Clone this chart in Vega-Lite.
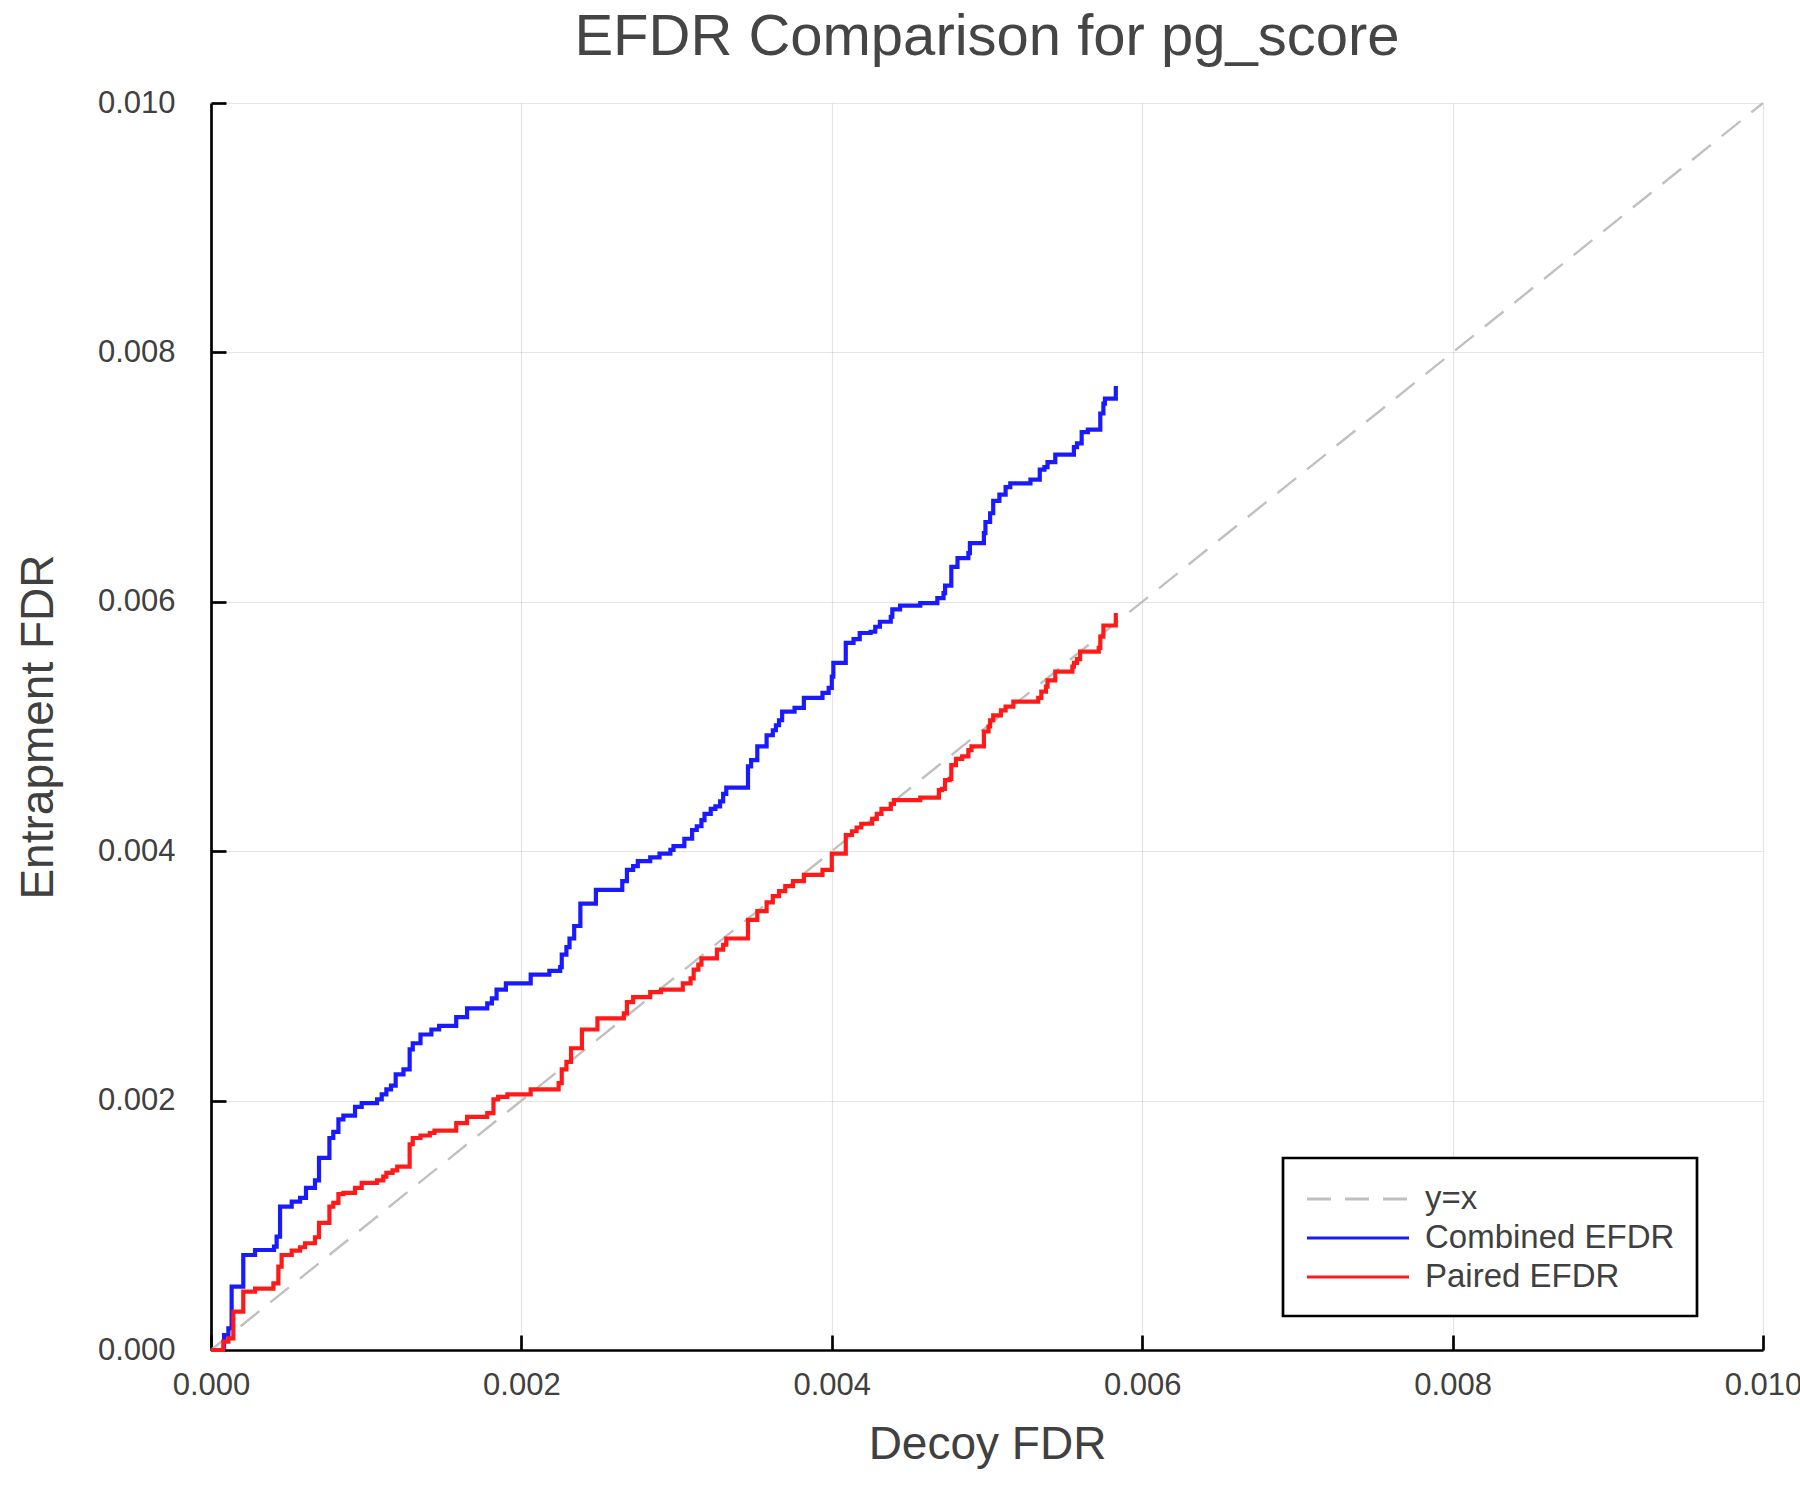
{
  "$schema": "https://vega.github.io/schema/vega-lite/v6.json",
  "width": 1552,
  "height": 1247,
  "autosize": {"type": "none"},
  "padding": {"left": 211, "top": 103, "right": 37, "bottom": 150},
  "background": "white",
  "title": {"text": "EFDR Comparison for pg_score", "fontSize": 58, "font": "Liberation Sans", "fontWeight": "normal", "color": "#454545", "anchor": "middle", "baseline": "alphabetic", "offset": -26},
  "config": {
    "view": {"stroke": null},
    "axis": {"domainColor": "black", "domainWidth": 2.7, "tickColor": "black", "tickWidth": 2.7, "tickSize": -15, "gridColor": "#000000", "gridOpacity": 0.1, "gridWidth": 1.2, "labelFont": "Liberation Sans", "labelFontSize": 31, "labelColor": "#404040", "titleFont": "Liberation Sans", "titleFontSize": 46, "titleColor": "#404040", "titleFontWeight": "normal", "labelFlush": false},
    "axisX": {"labelPadding": 35, "titlePadding": 22},
    "axisY": {"labelPadding": 51, "titlePadding": 35},
    "legend": {"orient": "none", "legendX": 1072, "legendY": 1055, "strokeColor": "black", "strokeWidth": 2.7, "fillColor": "white", "padding": 22, "symbolType": "M-1,0L5,0", "symbolSize": 1156, "symbolStrokeWidth": 3.2, "labelFontSize": 33, "labelFont": "Liberation Sans", "labelColor": "#404040", "labelOffset": 82, "rowPadding": 3, "labelLimit": 0}
  },
  "data": {"values": [
    {"s": "y=x", "x": 0, "y": 0},
    {"s": "y=x", "x": 0.01, "y": 0.01},
    {"s": "Combined EFDR", "x": 0.0000687, "y": 0.0000267},
    {"s": "Combined EFDR", "x": 0.000084, "y": 0.00012},
    {"s": "Combined EFDR", "x": 0.000112, "y": 0.000174},
    {"s": "Combined EFDR", "x": 0.000133, "y": 0.000508},
    {"s": "Combined EFDR", "x": 0.000208, "y": 0.000762},
    {"s": "Combined EFDR", "x": 0.000284, "y": 0.000802},
    {"s": "Combined EFDR", "x": 0.000406, "y": 0.000829},
    {"s": "Combined EFDR", "x": 0.000423, "y": 0.000909},
    {"s": "Combined EFDR", "x": 0.000445, "y": 0.00115},
    {"s": "Combined EFDR", "x": 0.00052, "y": 0.00119},
    {"s": "Combined EFDR", "x": 0.000574, "y": 0.00122},
    {"s": "Combined EFDR", "x": 0.000612, "y": 0.0013},
    {"s": "Combined EFDR", "x": 0.00067, "y": 0.00136},
    {"s": "Combined EFDR", "x": 0.000696, "y": 0.00154},
    {"s": "Combined EFDR", "x": 0.000763, "y": 0.0017},
    {"s": "Combined EFDR", "x": 0.000788, "y": 0.00175},
    {"s": "Combined EFDR", "x": 0.000821, "y": 0.00185},
    {"s": "Combined EFDR", "x": 0.000853, "y": 0.00188},
    {"s": "Combined EFDR", "x": 0.000928, "y": 0.00195},
    {"s": "Combined EFDR", "x": 0.000971, "y": 0.00198},
    {"s": "Combined EFDR", "x": 0.00107, "y": 0.00201},
    {"s": "Combined EFDR", "x": 0.0011, "y": 0.00205},
    {"s": "Combined EFDR", "x": 0.00113, "y": 0.00209},
    {"s": "Combined EFDR", "x": 0.00116, "y": 0.00212},
    {"s": "Combined EFDR", "x": 0.00119, "y": 0.00221},
    {"s": "Combined EFDR", "x": 0.00124, "y": 0.00225},
    {"s": "Combined EFDR", "x": 0.00128, "y": 0.00241},
    {"s": "Combined EFDR", "x": 0.0013, "y": 0.00246},
    {"s": "Combined EFDR", "x": 0.00135, "y": 0.00253},
    {"s": "Combined EFDR", "x": 0.00142, "y": 0.00257},
    {"s": "Combined EFDR", "x": 0.00147, "y": 0.0026},
    {"s": "Combined EFDR", "x": 0.00158, "y": 0.00267},
    {"s": "Combined EFDR", "x": 0.00165, "y": 0.00274},
    {"s": "Combined EFDR", "x": 0.00178, "y": 0.00278},
    {"s": "Combined EFDR", "x": 0.00181, "y": 0.00282},
    {"s": "Combined EFDR", "x": 0.00184, "y": 0.00289},
    {"s": "Combined EFDR", "x": 0.0019, "y": 0.00294},
    {"s": "Combined EFDR", "x": 0.00206, "y": 0.00301},
    {"s": "Combined EFDR", "x": 0.00218, "y": 0.00304},
    {"s": "Combined EFDR", "x": 0.00225, "y": 0.00307},
    {"s": "Combined EFDR", "x": 0.00226, "y": 0.00317},
    {"s": "Combined EFDR", "x": 0.00229, "y": 0.00323},
    {"s": "Combined EFDR", "x": 0.00231, "y": 0.0033},
    {"s": "Combined EFDR", "x": 0.00234, "y": 0.0034},
    {"s": "Combined EFDR", "x": 0.00238, "y": 0.00358},
    {"s": "Combined EFDR", "x": 0.00248, "y": 0.00369},
    {"s": "Combined EFDR", "x": 0.00265, "y": 0.00376},
    {"s": "Combined EFDR", "x": 0.00268, "y": 0.00385},
    {"s": "Combined EFDR", "x": 0.00272, "y": 0.00388},
    {"s": "Combined EFDR", "x": 0.00275, "y": 0.00392},
    {"s": "Combined EFDR", "x": 0.00283, "y": 0.00395},
    {"s": "Combined EFDR", "x": 0.00289, "y": 0.00398},
    {"s": "Combined EFDR", "x": 0.00296, "y": 0.00401},
    {"s": "Combined EFDR", "x": 0.00298, "y": 0.00404},
    {"s": "Combined EFDR", "x": 0.00305, "y": 0.0041},
    {"s": "Combined EFDR", "x": 0.0031, "y": 0.00417},
    {"s": "Combined EFDR", "x": 0.00313, "y": 0.0042},
    {"s": "Combined EFDR", "x": 0.00316, "y": 0.00425},
    {"s": "Combined EFDR", "x": 0.00318, "y": 0.0043},
    {"s": "Combined EFDR", "x": 0.00322, "y": 0.00434},
    {"s": "Combined EFDR", "x": 0.00325, "y": 0.00436},
    {"s": "Combined EFDR", "x": 0.00328, "y": 0.0044},
    {"s": "Combined EFDR", "x": 0.0033, "y": 0.00446},
    {"s": "Combined EFDR", "x": 0.00332, "y": 0.00451},
    {"s": "Combined EFDR", "x": 0.00346, "y": 0.00468},
    {"s": "Combined EFDR", "x": 0.00348, "y": 0.00473},
    {"s": "Combined EFDR", "x": 0.00352, "y": 0.00484},
    {"s": "Combined EFDR", "x": 0.00358, "y": 0.00493},
    {"s": "Combined EFDR", "x": 0.00362, "y": 0.00497},
    {"s": "Combined EFDR", "x": 0.00364, "y": 0.00501},
    {"s": "Combined EFDR", "x": 0.00366, "y": 0.00505},
    {"s": "Combined EFDR", "x": 0.00368, "y": 0.00512},
    {"s": "Combined EFDR", "x": 0.00376, "y": 0.00515},
    {"s": "Combined EFDR", "x": 0.00382, "y": 0.00523},
    {"s": "Combined EFDR", "x": 0.00394, "y": 0.00527},
    {"s": "Combined EFDR", "x": 0.00398, "y": 0.00531},
    {"s": "Combined EFDR", "x": 0.004, "y": 0.0054},
    {"s": "Combined EFDR", "x": 0.00401, "y": 0.00551},
    {"s": "Combined EFDR", "x": 0.00409, "y": 0.00567},
    {"s": "Combined EFDR", "x": 0.00414, "y": 0.0057},
    {"s": "Combined EFDR", "x": 0.00418, "y": 0.00575},
    {"s": "Combined EFDR", "x": 0.00425, "y": 0.00576},
    {"s": "Combined EFDR", "x": 0.00428, "y": 0.0058},
    {"s": "Combined EFDR", "x": 0.00431, "y": 0.00584},
    {"s": "Combined EFDR", "x": 0.00438, "y": 0.00588},
    {"s": "Combined EFDR", "x": 0.00439, "y": 0.00594},
    {"s": "Combined EFDR", "x": 0.00444, "y": 0.00597},
    {"s": "Combined EFDR", "x": 0.00457, "y": 0.00599},
    {"s": "Combined EFDR", "x": 0.00468, "y": 0.00603},
    {"s": "Combined EFDR", "x": 0.00472, "y": 0.00607},
    {"s": "Combined EFDR", "x": 0.00473, "y": 0.00613},
    {"s": "Combined EFDR", "x": 0.00477, "y": 0.00628},
    {"s": "Combined EFDR", "x": 0.00481, "y": 0.00635},
    {"s": "Combined EFDR", "x": 0.00488, "y": 0.00639},
    {"s": "Combined EFDR", "x": 0.00489, "y": 0.00647},
    {"s": "Combined EFDR", "x": 0.00498, "y": 0.00655},
    {"s": "Combined EFDR", "x": 0.00499, "y": 0.00664},
    {"s": "Combined EFDR", "x": 0.00502, "y": 0.00671},
    {"s": "Combined EFDR", "x": 0.00504, "y": 0.00681},
    {"s": "Combined EFDR", "x": 0.00508, "y": 0.00686},
    {"s": "Combined EFDR", "x": 0.00512, "y": 0.00692},
    {"s": "Combined EFDR", "x": 0.00515, "y": 0.00695},
    {"s": "Combined EFDR", "x": 0.00528, "y": 0.00698},
    {"s": "Combined EFDR", "x": 0.00534, "y": 0.00706},
    {"s": "Combined EFDR", "x": 0.00537, "y": 0.00708},
    {"s": "Combined EFDR", "x": 0.00539, "y": 0.00712},
    {"s": "Combined EFDR", "x": 0.00544, "y": 0.00718},
    {"s": "Combined EFDR", "x": 0.00556, "y": 0.00724},
    {"s": "Combined EFDR", "x": 0.00558, "y": 0.00727},
    {"s": "Combined EFDR", "x": 0.00561, "y": 0.00736},
    {"s": "Combined EFDR", "x": 0.00565, "y": 0.00738},
    {"s": "Combined EFDR", "x": 0.00573, "y": 0.00751},
    {"s": "Combined EFDR", "x": 0.00575, "y": 0.00759},
    {"s": "Combined EFDR", "x": 0.00576, "y": 0.00763},
    {"s": "Combined EFDR", "x": 0.00583, "y": 0.00773},
    {"s": "Paired EFDR", "x": 0, "y": 0},
    {"s": "Paired EFDR", "x": 0.0000795, "y": 0.0000668},
    {"s": "Paired EFDR", "x": 0.000112, "y": 0.0000936},
    {"s": "Paired EFDR", "x": 0.000144, "y": 0.000307},
    {"s": "Paired EFDR", "x": 0.000208, "y": 0.000468},
    {"s": "Paired EFDR", "x": 0.000284, "y": 0.000492},
    {"s": "Paired EFDR", "x": 0.000402, "y": 0.000535},
    {"s": "Paired EFDR", "x": 0.000434, "y": 0.000668},
    {"s": "Paired EFDR", "x": 0.000455, "y": 0.000762},
    {"s": "Paired EFDR", "x": 0.00052, "y": 0.000797},
    {"s": "Paired EFDR", "x": 0.000574, "y": 0.000824},
    {"s": "Paired EFDR", "x": 0.000606, "y": 0.000856},
    {"s": "Paired EFDR", "x": 0.00067, "y": 0.000904},
    {"s": "Paired EFDR", "x": 0.000696, "y": 0.00102},
    {"s": "Paired EFDR", "x": 0.000763, "y": 0.00115},
    {"s": "Paired EFDR", "x": 0.000788, "y": 0.00118},
    {"s": "Paired EFDR", "x": 0.000821, "y": 0.00125},
    {"s": "Paired EFDR", "x": 0.000853, "y": 0.00126},
    {"s": "Paired EFDR", "x": 0.000928, "y": 0.0013},
    {"s": "Paired EFDR", "x": 0.000971, "y": 0.00134},
    {"s": "Paired EFDR", "x": 0.00107, "y": 0.00136},
    {"s": "Paired EFDR", "x": 0.00111, "y": 0.00139},
    {"s": "Paired EFDR", "x": 0.00113, "y": 0.00142},
    {"s": "Paired EFDR", "x": 0.00117, "y": 0.00144},
    {"s": "Paired EFDR", "x": 0.0012, "y": 0.00147},
    {"s": "Paired EFDR", "x": 0.00128, "y": 0.00165},
    {"s": "Paired EFDR", "x": 0.0013, "y": 0.0017},
    {"s": "Paired EFDR", "x": 0.00135, "y": 0.00172},
    {"s": "Paired EFDR", "x": 0.00141, "y": 0.00174},
    {"s": "Paired EFDR", "x": 0.00144, "y": 0.00176},
    {"s": "Paired EFDR", "x": 0.00158, "y": 0.00182},
    {"s": "Paired EFDR", "x": 0.00165, "y": 0.00187},
    {"s": "Paired EFDR", "x": 0.00178, "y": 0.0019},
    {"s": "Paired EFDR", "x": 0.00182, "y": 0.00201},
    {"s": "Paired EFDR", "x": 0.00185, "y": 0.00203},
    {"s": "Paired EFDR", "x": 0.00191, "y": 0.00205},
    {"s": "Paired EFDR", "x": 0.00206, "y": 0.00209},
    {"s": "Paired EFDR", "x": 0.00224, "y": 0.00214},
    {"s": "Paired EFDR", "x": 0.00226, "y": 0.00225},
    {"s": "Paired EFDR", "x": 0.00229, "y": 0.00231},
    {"s": "Paired EFDR", "x": 0.00232, "y": 0.00242},
    {"s": "Paired EFDR", "x": 0.00239, "y": 0.00257},
    {"s": "Paired EFDR", "x": 0.00249, "y": 0.00266},
    {"s": "Paired EFDR", "x": 0.00266, "y": 0.0027},
    {"s": "Paired EFDR", "x": 0.00268, "y": 0.00279},
    {"s": "Paired EFDR", "x": 0.00272, "y": 0.00283},
    {"s": "Paired EFDR", "x": 0.00283, "y": 0.00287},
    {"s": "Paired EFDR", "x": 0.0029, "y": 0.00289},
    {"s": "Paired EFDR", "x": 0.00304, "y": 0.00294},
    {"s": "Paired EFDR", "x": 0.00309, "y": 0.00298},
    {"s": "Paired EFDR", "x": 0.00311, "y": 0.00305},
    {"s": "Paired EFDR", "x": 0.00314, "y": 0.00309},
    {"s": "Paired EFDR", "x": 0.00316, "y": 0.00314},
    {"s": "Paired EFDR", "x": 0.00326, "y": 0.00321},
    {"s": "Paired EFDR", "x": 0.0033, "y": 0.00325},
    {"s": "Paired EFDR", "x": 0.00332, "y": 0.0033},
    {"s": "Paired EFDR", "x": 0.00346, "y": 0.00345},
    {"s": "Paired EFDR", "x": 0.00352, "y": 0.00352},
    {"s": "Paired EFDR", "x": 0.00358, "y": 0.00359},
    {"s": "Paired EFDR", "x": 0.00362, "y": 0.00364},
    {"s": "Paired EFDR", "x": 0.00366, "y": 0.00368},
    {"s": "Paired EFDR", "x": 0.0037, "y": 0.00372},
    {"s": "Paired EFDR", "x": 0.00375, "y": 0.00376},
    {"s": "Paired EFDR", "x": 0.00382, "y": 0.00381},
    {"s": "Paired EFDR", "x": 0.00394, "y": 0.00385},
    {"s": "Paired EFDR", "x": 0.004, "y": 0.00398},
    {"s": "Paired EFDR", "x": 0.00409, "y": 0.00413},
    {"s": "Paired EFDR", "x": 0.00413, "y": 0.00416},
    {"s": "Paired EFDR", "x": 0.00416, "y": 0.00419},
    {"s": "Paired EFDR", "x": 0.00419, "y": 0.00422},
    {"s": "Paired EFDR", "x": 0.00426, "y": 0.00426},
    {"s": "Paired EFDR", "x": 0.00429, "y": 0.0043},
    {"s": "Paired EFDR", "x": 0.00432, "y": 0.00434},
    {"s": "Paired EFDR", "x": 0.00438, "y": 0.00438},
    {"s": "Paired EFDR", "x": 0.0044, "y": 0.00441},
    {"s": "Paired EFDR", "x": 0.00457, "y": 0.00443},
    {"s": "Paired EFDR", "x": 0.00469, "y": 0.00449},
    {"s": "Paired EFDR", "x": 0.00471, "y": 0.0045},
    {"s": "Paired EFDR", "x": 0.00473, "y": 0.00457},
    {"s": "Paired EFDR", "x": 0.00476, "y": 0.00458},
    {"s": "Paired EFDR", "x": 0.00477, "y": 0.00469},
    {"s": "Paired EFDR", "x": 0.0048, "y": 0.00474},
    {"s": "Paired EFDR", "x": 0.00484, "y": 0.00476},
    {"s": "Paired EFDR", "x": 0.00488, "y": 0.00481},
    {"s": "Paired EFDR", "x": 0.0049, "y": 0.00484},
    {"s": "Paired EFDR", "x": 0.00498, "y": 0.00496},
    {"s": "Paired EFDR", "x": 0.00501, "y": 0.005},
    {"s": "Paired EFDR", "x": 0.00502, "y": 0.00505},
    {"s": "Paired EFDR", "x": 0.00504, "y": 0.00509},
    {"s": "Paired EFDR", "x": 0.00509, "y": 0.00513},
    {"s": "Paired EFDR", "x": 0.00512, "y": 0.00516},
    {"s": "Paired EFDR", "x": 0.00517, "y": 0.0052},
    {"s": "Paired EFDR", "x": 0.00533, "y": 0.00523},
    {"s": "Paired EFDR", "x": 0.00535, "y": 0.00528},
    {"s": "Paired EFDR", "x": 0.00538, "y": 0.00532},
    {"s": "Paired EFDR", "x": 0.00539, "y": 0.00537},
    {"s": "Paired EFDR", "x": 0.00544, "y": 0.00544},
    {"s": "Paired EFDR", "x": 0.00555, "y": 0.00548},
    {"s": "Paired EFDR", "x": 0.00556, "y": 0.00551},
    {"s": "Paired EFDR", "x": 0.00558, "y": 0.00554},
    {"s": "Paired EFDR", "x": 0.0056, "y": 0.0056},
    {"s": "Paired EFDR", "x": 0.00572, "y": 0.00563},
    {"s": "Paired EFDR", "x": 0.00573, "y": 0.00572},
    {"s": "Paired EFDR", "x": 0.00575, "y": 0.00581},
    {"s": "Paired EFDR", "x": 0.00583, "y": 0.00591}
  ]},
  "encoding": {
    "x": {"field": "x", "type": "quantitative", "scale": {"domain": [0, 0.01], "nice": false, "zero": false}, "axis": {"values": [0, 0.002, 0.004, 0.006, 0.008, 0.01], "format": ".3f", "title": "Decoy FDR"}},
    "y": {"field": "y", "type": "quantitative", "scale": {"domain": [0, 0.01], "nice": false, "zero": false}, "axis": {"values": [0, 0.002, 0.004, 0.006, 0.008, 0.01], "format": ".3f", "title": "Entrapment FDR"}},
    "color": {"field": "s", "type": "nominal", "scale": {"domain": ["y=x", "Combined EFDR", "Paired EFDR"], "range": ["#c0c0c0", "#1a1aff", "#ff1a1a"]}, "legend": {"title": null}},
    "strokeDash": {"field": "s", "type": "nominal", "scale": {"domain": ["y=x", "Combined EFDR", "Paired EFDR"], "range": [[24, 14], [1, 0], [1, 0]]}, "legend": {"title": null}}
  },
  "layer": [
    {"transform": [{"filter": "datum.s === 'y=x'"}], "mark": {"type": "line", "strokeWidth": 2.4}},
    {"transform": [{"filter": "datum.s === 'Combined EFDR'"}], "mark": {"type": "line", "interpolate": "step-after", "strokeWidth": 4.2}},
    {"transform": [{"filter": "datum.s === 'Paired EFDR'"}], "mark": {"type": "line", "interpolate": "step-after", "strokeWidth": 4.2}}
  ]
}
